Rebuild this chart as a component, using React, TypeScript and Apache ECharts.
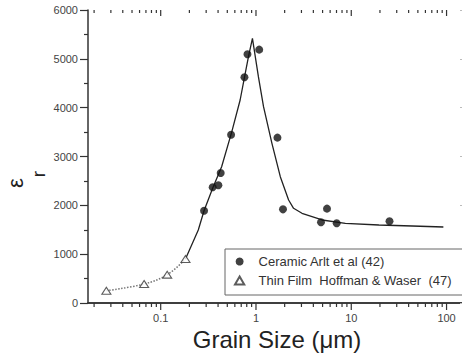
import React, { useEffect, useRef } from "react";
import * as echarts from "echarts";

// Ceramic (Arlt et al) — filled circles
const ceramicX = [0.285, 0.351, 0.403, 0.426, 0.548, 0.757, 0.814, 1.08, 1.68, 1.92, 4.81, 5.56, 7.03, 25.2];
const ceramicY = [1890, 2370, 2410, 2662, 3447, 4622, 5093, 5188, 3386, 1918, 1652, 1932, 1632, 1673];

// Thin film (Hoffman & Waser) — open triangles
const filmX = [0.0269, 0.067, 0.117, 0.182];
const filmY = [252, 389, 580, 901];

// Solid fitted curve
const fitX = [0.182, 0.248, 0.285, 0.351, 0.436, 0.556, 0.682, 0.757, 0.834, 0.918, 1.06, 1.2, 1.47, 1.8, 2.2, 2.48, 3.04, 4.94, 8.67, 19.5, 43.6, 92.6];
const fitY = [901, 1495, 1890, 2350, 2790, 3500, 4157, 4622, 5045, 5420, 4635, 4020, 3270, 2587, 2110, 1939, 1837, 1700, 1632, 1597, 1577, 1556];

// Axis ticks
const xMajorTicks = [0.1, 1, 10, 100];
const xMinorTicks = [
  0.02, 0.03, 0.04, 0.05, 0.06, 0.07, 0.08, 0.09,
  0.2, 0.3, 0.4, 0.5, 0.6, 0.7, 0.8, 0.9,
  2, 3, 4, 5, 6, 7, 8, 9,
  20, 30, 40, 50, 60, 70, 80, 90,
];
const xMin = 0.01726;
const xMax = 160;
const yMin = 0;
const yMax = 6000;
const yInterval = 1000;

const seriesNames = ["Ceramic Arlt et al (42)", "Thin Film  Hoffman & Waser  (47)"];

const FONT = "'Liberation Sans', Arial, Helvetica, sans-serif";
const AXIS = "#333";
const TRIANGLE = "path://M5,0L10,8.66L0,8.66Z";

export default function App() {
  const ref = useRef<HTMLDivElement>(null);
  useEffect(() => {
    if (!ref.current) return;
    const chart = echarts.init(ref.current, undefined, { renderer: "svg" });
    const tickData = [
      ...xMajorTicks.map((v) => [v, 0, 1]),
      ...xMinorTicks.map((v) => [v, 0, 0]),
    ];
    const isMajor = (v: number) =>
      xMajorTicks.find((t) => Math.abs(Math.log10(v) - Math.log10(t)) < 1e-6);
    chart.setOption({
      animation: false,
      backgroundColor: "#fff",
      textStyle: { fontFamily: FONT },
      grid: { left: 88, top: 10, width: 378, height: 293, outerBoundsMode: "none", containLabel: false },
      xAxis: [
        {
          type: "log",
          logBase: 10,
          min: xMin,
          max: xMax,
          position: "bottom",
          axisLine: { show: true, lineStyle: { color: AXIS, width: 1.5 } },
          axisTick: { show: false },
          splitLine: { show: false },
          axisLabel: {
            show: true,
            color: "#444",
            fontSize: 11,
            fontFamily: FONT,
            margin: 9,
            formatter: (v: number) => {
              const t = isMajor(v);
              return t !== undefined ? String(t) : "";
            },
          },
          name: "Grain Size (\u03bcm)",
          nameLocation: "middle",
          nameGap: 21,
          nameTextStyle: { fontSize: 24, color: "#222", fontFamily: FONT },
        },
        {
          type: "log",
          logBase: 10,
          min: xMin,
          max: xMax,
          position: "top",
          axisLine: { show: true, lineStyle: { color: AXIS, width: 1.5 } },
          axisTick: { show: false },
          axisLabel: { show: false },
          splitLine: { show: false },
        },
      ],
      yAxis: [
        {
          type: "value",
          min: yMin,
          max: yMax,
          interval: yInterval,
          position: "left",
          axisLine: { show: true, lineStyle: { color: AXIS, width: 1.5 } },
          axisTick: { show: true, length: 8, inside: false, lineStyle: { color: AXIS, width: 1.2 } },
          minorTick: { show: true, splitNumber: 2, length: 4, lineStyle: { color: AXIS, width: 1.2 } },
          splitLine: { show: false },
          axisLabel: {
            color: "#444",
            fontSize: 11,
            fontFamily: FONT,
            margin: 10,
            formatter: (v: number) => String(v),
          },
        },
        {
          type: "value",
          min: yMin,
          max: yMax,
          interval: yInterval,
          position: "right",
          axisLine: { show: true, lineStyle: { color: AXIS, width: 1.5 } },
          axisTick: { show: true, length: 6, inside: true, lineStyle: { color: "#bbb", width: 1 } },
          axisLabel: { show: false },
          splitLine: { show: false },
        },
      ],
      legend: {
        data: seriesNames,
        orient: "vertical",
        left: 225,
        top: 249,
        padding: [4, 24, 6, 9],
        itemGap: 2,
        itemWidth: 28,
        itemHeight: 8,
        symbolKeepAspect: true,
        borderColor: "#666",
        borderWidth: 1,
        borderRadius: 0,
        backgroundColor: "#fff",
        selectedMode: false,
        textStyle: {
          fontSize: 13,
          color: "#333",
          fontFamily: FONT,
          lineHeight: 17,
        },
      },
      graphic: [
        {
          type: "text",
          x: 15,
          y: 183,
          rotation: Math.PI / 2,
          style: {
            text: "\u03b5",
            fontSize: 22,
            fontFamily: FONT,
            fill: "#222",
            align: "center",
            verticalAlign: "middle",
          },
        },
        {
          type: "text",
          x: 38,
          y: 174,
          rotation: Math.PI / 2,
          style: {
            text: "r",
            fontSize: 19,
            fontFamily: FONT,
            fill: "#222",
            align: "center",
            verticalAlign: "middle",
          },
        },
      ],
      series: [
        {
          type: "line",
          name: "fit",
          data: fitX.map((x, i) => [x, fitY[i]]),
          showSymbol: false,
          symbol: "none",
          silent: true,
          smooth: false,
          lineStyle: { color: "#222", width: 1.3 },
          z: 2,
        },
        {
          type: "line",
          name: "filmFit",
          data: filmX.map((x, i) => [x, filmY[i]]),
          showSymbol: false,
          symbol: "none",
          silent: true,
          smooth: 0.4,
          lineStyle: { color: "#777", width: 1.5, type: "dotted" },
          z: 2,
        },
        {
          type: "scatter",
          name: seriesNames[0],
          data: ceramicX.map((x, i) => [x, ceramicY[i]]),
          symbol: "circle",
          symbolSize: 8,
          itemStyle: { color: "#111" },
          z: 3,
        },
        {
          type: "scatter",
          name: seriesNames[1],
          data: filmX.map((x, i) => [x, filmY[i]]),
          symbol: TRIANGLE,
          symbolSize: [9, 8],
          symbolKeepAspect: true,
          itemStyle: { color: "#fff", borderColor: "#333", borderWidth: 1.1 },
          z: 3,
        },
        {
          type: "custom",
          name: "xticks",
          silent: true,
          clip: false,
          data: tickData,
          encode: { x: 0, y: 1 },
          renderItem: (_p: any, api: any) => {
            const v = api.value(0);
            const major = api.value(2) === 1;
            const pb = api.coord([v, yMin]);
            const pt = api.coord([v, yMax]);
            const style = { stroke: AXIS, lineWidth: 1.2 };
            return {
              type: "group",
              children: [
                {
                  type: "line",
                  shape: { x1: pb[0], y1: pb[1], x2: pb[0], y2: pb[1] + (major ? 7 : 4) },
                  style,
                },
                {
                  type: "line",
                  shape: { x1: pt[0], y1: pt[1], x2: pt[0], y2: pt[1] + (major ? 6 : 3) },
                  style,
                },
              ],
            };
          },
          z: 4,
        },
      ],
    });
    return () => chart.dispose();
  }, []);
  return <div ref={ref} style={{ width: 462, height: 354, position: "absolute", left: 0, top: 0 }} />;
}
